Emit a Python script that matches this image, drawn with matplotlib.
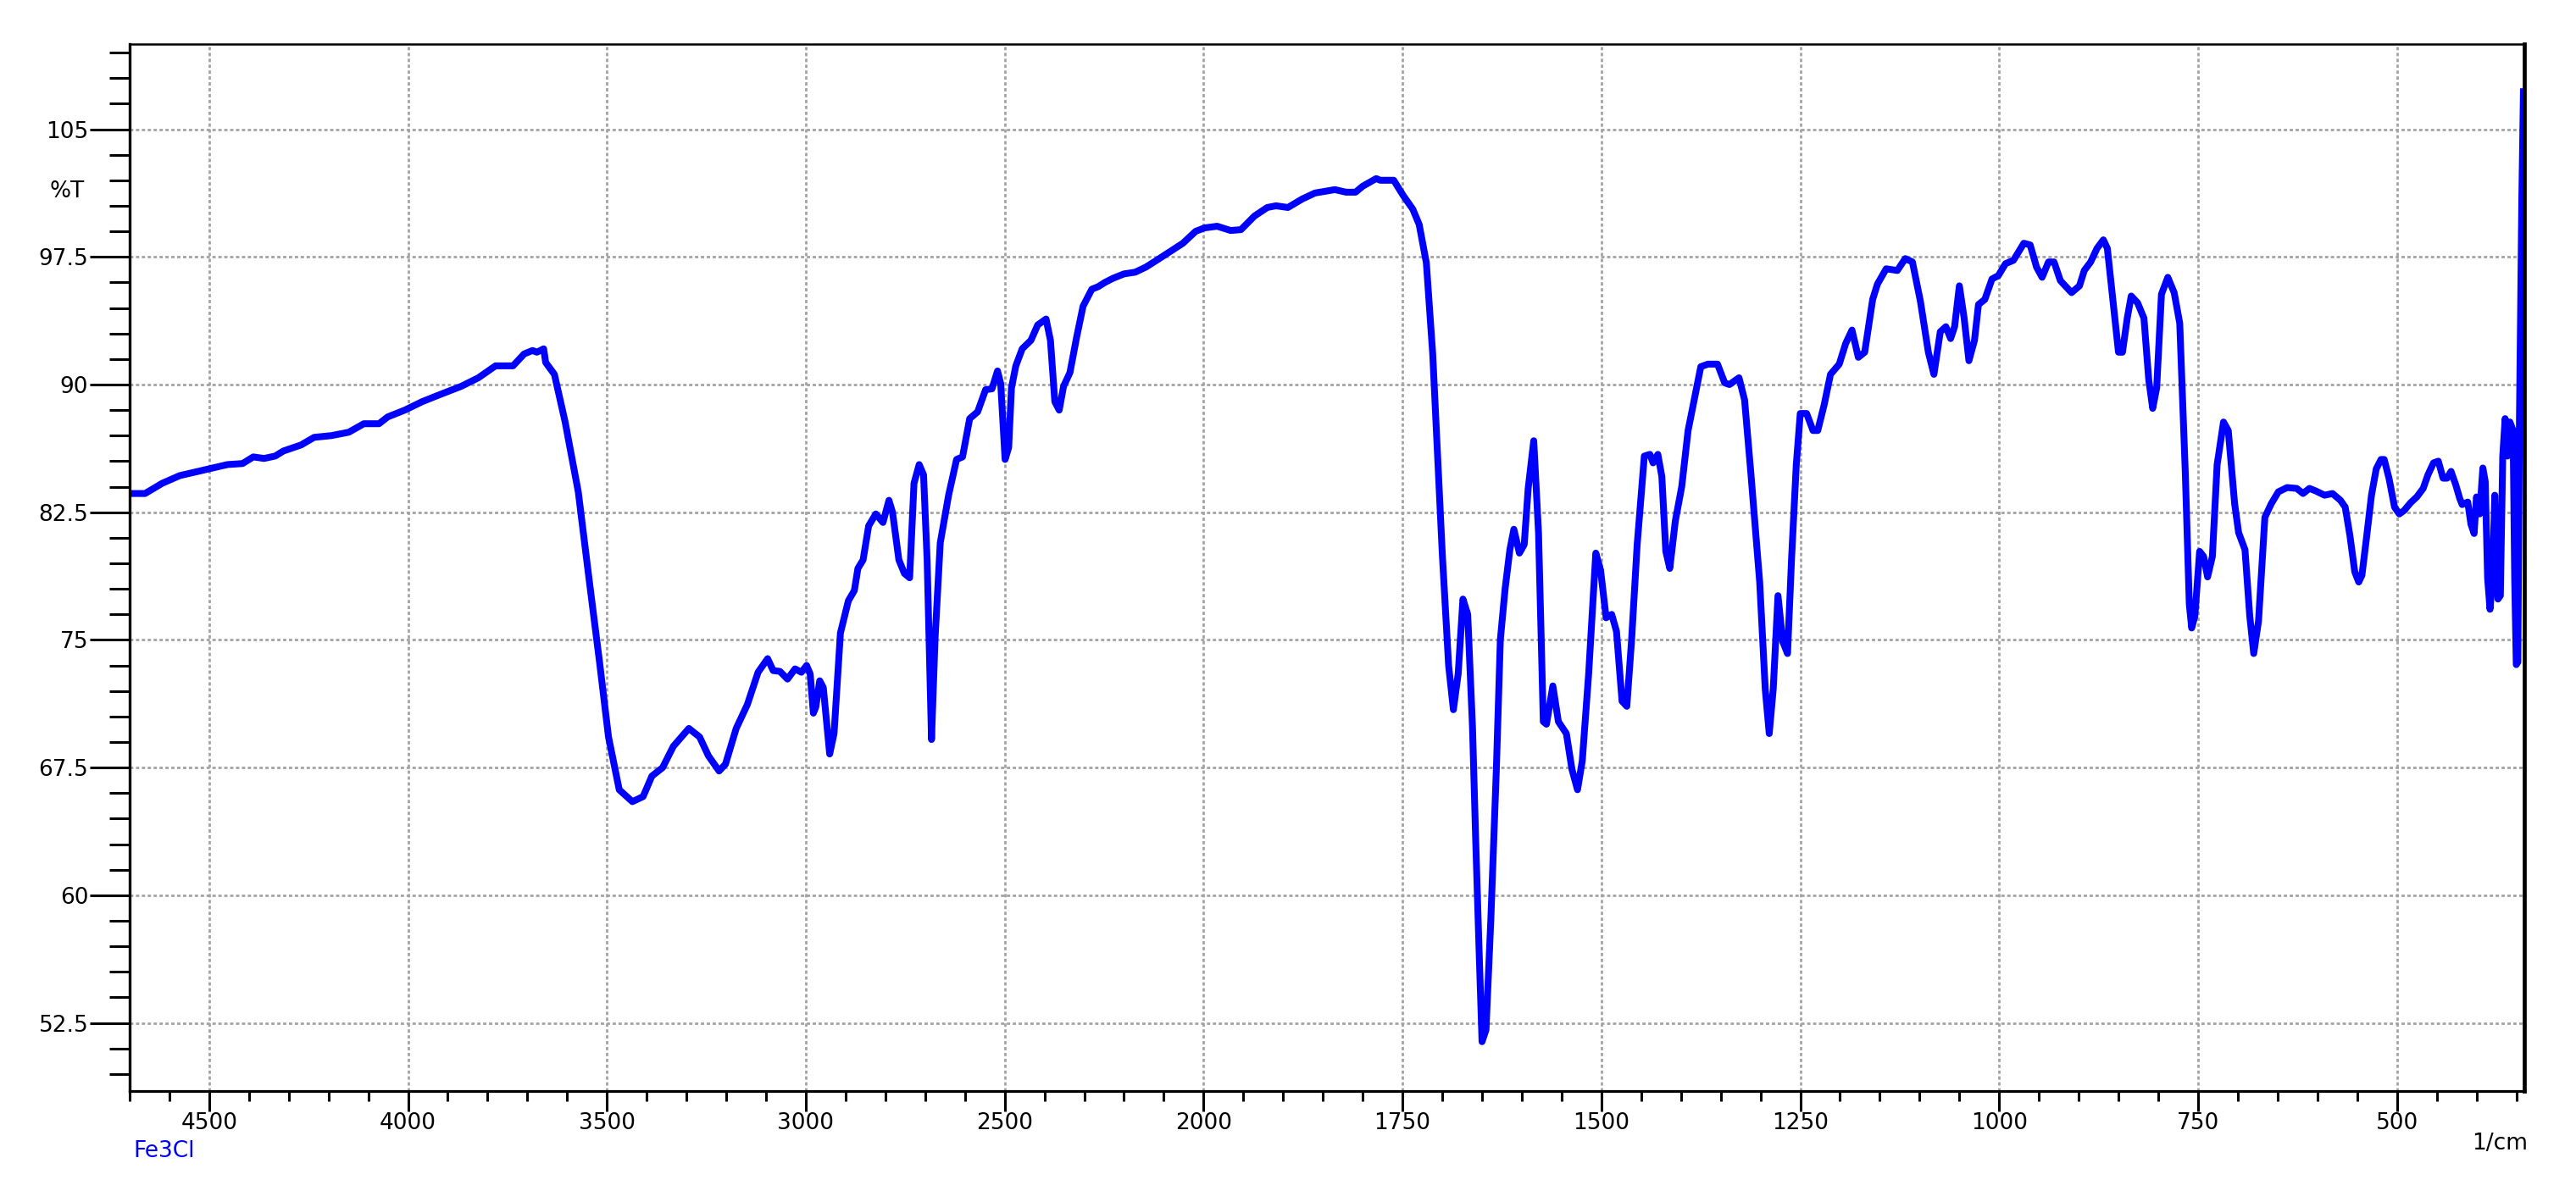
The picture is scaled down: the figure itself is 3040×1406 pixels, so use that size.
from __future__ import annotations

from pathlib import Path

import matplotlib

matplotlib.use("Agg")
import matplotlib.pyplot as plt
import numpy as np
from matplotlib.ticker import MultipleLocator

OUT_PATH = Path("out.png")

# FTIR spectrum of the Fe3Cl sample (cm-1, %T)
WAVENUMBER = [
    4694, 4661, 4618, 4574, 4500, 4454, 4416, 4389, 4362, 4334, 4313, 4269, 4236, 4193,
    4149, 4111, 4073, 4051, 4008, 3964, 3921, 3866, 3823, 3780, 3736, 3708, 3687, 3676,
    3659, 3654, 3632, 3605, 3572, 3545, 3518, 3496, 3469, 3436, 3409, 3387, 3360, 3333,
    3294, 3267, 3245, 3218, 3202, 3175, 3147, 3120, 3096, 3082, 3065, 3046, 3027, 3011,
    2998, 2989, 2981, 2975, 2965, 2956, 2940, 2929, 2913, 2893, 2878, 2869, 2856, 2842,
    2824, 2806, 2791, 2782, 2766, 2752, 2739, 2728, 2715, 2704, 2695, 2684, 2675, 2662,
    2641, 2621, 2606, 2588, 2568, 2548, 2532, 2518, 2510, 2499, 2490, 2483, 2472, 2456,
    2434, 2417, 2396, 2385, 2374, 2363, 2352, 2336, 2319, 2303, 2281, 2265, 2248, 2227,
    2200, 2172, 2145, 2118, 2085, 2052, 2020, 1999, 1983, 1966, 1953, 1936, 1920, 1909,
    1894, 1876, 1860, 1835, 1821, 1809, 1800, 1783, 1778, 1761, 1749, 1737, 1729, 1720,
    1712, 1700, 1692, 1686, 1680, 1674, 1668, 1662, 1658, 1654, 1650, 1645, 1639, 1632,
    1627, 1621, 1615, 1610, 1603, 1597, 1592, 1585, 1579, 1573, 1569, 1561, 1554, 1544,
    1537, 1530, 1524, 1516, 1507, 1501, 1494, 1487, 1481, 1474, 1468, 1462, 1455, 1446,
    1439, 1435, 1429, 1424, 1419, 1414, 1407, 1399, 1391, 1385, 1375, 1366, 1354, 1345,
    1339, 1327, 1320, 1312, 1301, 1294, 1289, 1284, 1278, 1272, 1266, 1261, 1255, 1250,
    1242, 1234, 1228, 1220, 1212, 1201, 1193, 1185, 1177, 1169, 1159, 1153, 1142, 1128,
    1118, 1109, 1099, 1089, 1082, 1074, 1067, 1061, 1056, 1050, 1044, 1038, 1031, 1026,
    1018, 1009, 1001, 992, 982, 969, 961, 953, 946, 938, 931, 923, 909, 899,
    893, 885, 877, 869, 864, 858, 850, 845, 839, 834, 826, 818, 812, 807,
    802, 796, 788, 780, 773, 766, 761, 758, 754, 748, 743, 738, 732, 726,
    718, 712, 704, 699, 691, 685, 680, 674, 666, 658, 649, 638, 626, 618,
    610, 602, 591, 581, 571, 565, 559, 553, 548, 544, 538, 532, 526, 520,
    516, 510, 503, 497, 491, 483, 475, 467, 461, 454, 448, 442, 437, 432,
    426, 421, 418, 411, 407, 403, 400, 396, 392, 389, 386, 383, 380, 377,
    373, 370, 367, 364, 361, 358, 354, 352, 350, 348, 346, 343, 341,
]
TRANSMITTANCE = [
    83.6, 83.6, 84.2, 84.65, 85.05, 85.3, 85.36, 85.75, 85.66, 85.8, 86.1, 86.45, 86.9, 87.0,
    87.2, 87.7, 87.7, 88.1, 88.5, 89.0, 89.4, 89.9, 90.4, 91.1, 91.1, 91.8, 92.0, 91.9,
    92.1, 91.3, 90.6, 87.8, 83.7, 78.6, 73.6, 69.3, 66.2, 65.5, 65.8, 67.0, 67.5, 68.75,
    69.8, 69.3, 68.2, 67.3, 67.7, 69.8, 71.2, 73.1, 73.9, 73.2, 73.15, 72.7, 73.3, 73.1,
    73.5, 73.0, 70.7, 71.05, 72.6, 72.2, 68.3, 69.5, 75.4, 77.3, 77.9, 79.2, 79.7, 81.7,
    82.4, 81.9, 83.2, 82.5, 79.7, 78.9, 78.65, 84.2, 85.3, 84.7, 79.7, 69.15, 75.1, 80.7,
    83.5, 85.6, 85.75, 88.0, 88.4, 89.7, 89.75, 90.8, 90.05, 85.6, 86.3, 89.8, 91.1, 92.1,
    92.6, 93.5, 93.85, 92.6, 89.0, 88.5, 89.9, 90.7, 92.8, 94.6, 95.6, 95.75, 96.0, 96.25,
    96.5, 96.6, 96.9, 97.3, 97.8, 98.3, 99.0, 99.2, 99.3, 99.05, 99.1, 99.9, 100.4, 100.5,
    100.4, 100.9, 101.25, 101.45, 101.3, 101.3, 101.65, 102.1, 102.0, 102.0, 101.1, 100.3, 99.4, 97.15,
    91.8, 80.1, 73.5, 70.9, 73.0, 77.4, 76.5, 69.9, 63.3, 57.2, 51.4, 52.1, 58.5, 67.4,
    75.0, 78.0, 80.3, 81.5, 80.1, 80.6, 83.9, 86.7, 81.3, 70.2, 70.05, 72.3, 70.2, 69.5,
    67.4, 66.2, 67.9, 73.0, 80.1, 79.1, 76.3, 76.5, 75.5, 71.4, 71.1, 75.0, 80.6, 85.8,
    85.9, 85.4, 85.9, 84.6, 80.2, 79.2, 82.0, 84.0, 87.3, 88.7, 91.05, 91.2, 91.2, 90.1,
    90.0, 90.4, 89.1, 84.75, 78.4, 72.1, 69.5, 72.1, 77.6, 74.9, 74.2, 79.7, 85.3, 88.3,
    88.3, 87.3, 87.3, 88.8, 90.6, 91.2, 92.4, 93.2, 91.6, 91.9, 95.0, 95.9, 96.8, 96.7,
    97.4, 97.2, 94.9, 91.9, 90.6, 93.1, 93.4, 92.7, 93.4, 95.8, 93.9, 91.4, 92.6, 94.7,
    95.0, 96.2, 96.4, 97.1, 97.3, 98.3, 98.2, 96.9, 96.3, 97.2, 97.2, 96.1, 95.4, 95.8,
    96.7, 97.2, 98.0, 98.5, 98.0, 95.4, 91.9, 91.9, 93.9, 95.2, 94.8, 93.9, 90.3, 88.6,
    89.8, 95.3, 96.3, 95.4, 93.6, 84.8, 77.1, 75.7, 76.4, 80.2, 79.9, 78.7, 79.9, 85.3,
    87.8, 87.3, 83.0, 81.3, 80.3, 76.4, 74.2, 76.1, 82.2, 83.0, 83.7, 83.95, 83.9, 83.6,
    83.9, 83.75, 83.5, 83.6, 83.2, 82.8, 81.1, 79.0, 78.4, 78.8, 81.1, 83.5, 85.05, 85.6,
    85.6, 84.5, 82.8, 82.4, 82.6, 83.05, 83.4, 83.9, 84.7, 85.4, 85.5, 84.5, 84.5, 84.9,
    84.1, 83.3, 82.95, 83.1, 81.8, 81.25, 83.4, 82.4, 85.1, 84.3, 78.6, 76.8, 78.6, 83.5,
    77.4, 77.6, 85.8, 88.0, 85.8, 87.8, 87.3, 78.6, 73.55, 73.7, 88.0, 101.0, 107.2,
]

X_TICKS = [4500, 4000, 3500, 3000, 2500, 2000, 1750, 1500, 1250, 1000, 750, 500]
X_LABELS = ["4500", "4000", "3500", "3000", "2500", "2000", "1750", "1500", "1250", "1000", "750", "500"]
Y_TICKS = [52.5, 60, 67.5, 75, 82.5, 90, 97.5, 105]
Y_LABELS = ["52.5", "60", "67.5", "75", "82.5", "90", "97.5", "105"]
SAMPLE_NAME = "Fe3Cl"

FONT = "DejaVu Sans"
FS = 19
GRID_KW = dict(color="#a3a3a3", linestyle=(0, (1.4, 1.1)), linewidth=2.0)


# spectrometer axis: half scale above 2000 cm-1
def _fwd(wn):
    wn = np.asarray(wn, dtype=float)
    return np.where(wn > 2000, 2000 + (wn - 2000) / 2, wn)


def _inv(u):
    u = np.asarray(u, dtype=float)
    return np.where(u > 2000, 2000 + (u - 2000) * 2, u)


def plot_spectrum(out_path: Path) -> None:
    fig = plt.figure(figsize=(30.4, 14.06), dpi=100)
    ax = fig.add_axes([0.0503, 0.0839, 0.9296, 0.8791])

    ax.set_xscale("function", functions=(_fwd, _inv))
    ax.plot(WAVENUMBER, TRANSMITTANCE, color="#0000ff", linewidth=5.8, solid_joinstyle="round")
    ax.set_xlim(4700, 340)
    ax.set_ylim(48.5, 110)

    ax.set_xticks(X_TICKS, labels=X_LABELS)
    minor_x = list(range(4700, 2000, -100)) + list(range(1950, 340, -50))
    ax.set_xticks(minor_x, minor=True)
    ax.set_yticks(Y_TICKS, labels=Y_LABELS)
    ax.yaxis.set_minor_locator(MultipleLocator(1.5))

    ax.set_axisbelow(True)
    ax.grid(True, which="major", **GRID_KW)

    ax.tick_params(axis="y", which="major", direction="out", length=34, width=2.2, pad=1.0)
    ax.tick_params(axis="y", which="minor", direction="out", length=17, width=2.2)
    ax.tick_params(axis="x", which="major", direction="out", length=17, width=2.2, pad=1.0)
    ax.tick_params(axis="x", which="minor", direction="out", length=8.5, width=2.2)
    for lab in ax.get_xticklabels() + ax.get_yticklabels():
        lab.set_fontfamily(FONT)
        lab.set_fontsize(FS)

    for side, lw in (("left", 2.4), ("bottom", 2.3), ("top", 1.8), ("right", 3.4)):
        ax.spines[side].set_linewidth(lw)
        ax.spines[side].set_color("black")

    fig.text(79 / 3040, 1 - 226 / 1406, "%T", ha="center", va="center", fontsize=FS, family=FONT)
    fig.text(2950 / 3040, 1 - 1350 / 1406, "1/cm", ha="center", va="center", fontsize=FS, family=FONT)
    fig.text(157 / 3040, 1 - 1346 / 1406, SAMPLE_NAME, ha="left", va="top", fontsize=FS,
             family=FONT, color="#0000ff")

    fig.savefig(out_path, dpi=100)
    plt.close(fig)


def main() -> None:
    plot_spectrum(OUT_PATH)
    print(f"[OK] {len(WAVENUMBER)} points -> {OUT_PATH}")


if __name__ == "__main__":
    main()
